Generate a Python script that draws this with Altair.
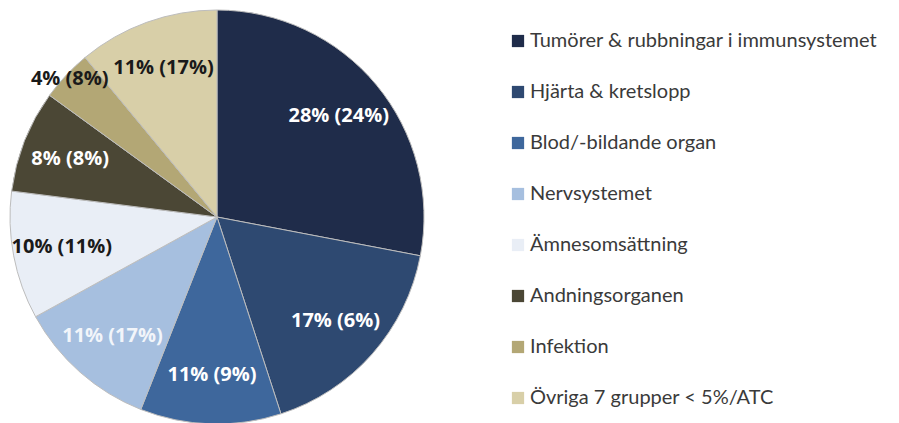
import altair as alt
import pandas as pd

categories = [
    "Tumörer & rubbningar i immunsystemet",
    "Hjärta & kretslopp",
    "Blod/-bildande organ",
    "Nervsystemet",
    "Ämnesomsättning",
    "Andningsorganen",
    "Infektion",
    "Övriga 7 grupper < 5%/ATC",
]
shares = [28, 17, 11, 11, 10, 8, 4, 11]
previous = [24, 6, 9, 17, 11, 8, 8, 17]
colors = ["#1f2c4a", "#2e4971", "#3e679c", "#a6bfdf", "#e9eef6", "#4b4735", "#b3a775", "#d8cfa8"]
label_colors = ["#ffffff", "#ffffff", "#ffffff", "#f2f5fa", "#1a1a1a", "#ffffff", "#1a1a1a", "#1a1a1a"]

df = pd.DataFrame({
    "cat": categories,
    "share": shares,
    "prev": previous,
    "idx": list(range(len(categories))),
    "lc": label_colors,
})

theta_scale = alt.Scale(domain=[0, 100])

pie = alt.Chart(df).mark_arc(radius=207, stroke="#bdbdbd", strokeWidth=1).encode(
    theta=alt.Theta("share:Q", stack=True, scale=theta_scale),
    order=alt.Order("idx:Q", sort="ascending"),
    color=alt.Color(
        "cat:N",
        scale=alt.Scale(domain=categories, range=colors),
        sort=categories,
        legend=alt.Legend(
            title=None,
            orient="none",
            legendX=499,
            legendY=21,
            symbolType="square",
            symbolSize=150,
            symbolStrokeWidth=0,
            labelFont="Lato",
            labelFontSize=20,
            labelColor="#3a3a3a",
            rowPadding=31,
            labelOffset=2,
            labelLimit=500,
        ),
    ),
)

text = alt.Chart(df).transform_window(
    cum="sum(share)", sort=[alt.SortField("idx", order="ascending")], frame=[None, 0]
).transform_calculate(
    mid="datum.cum - datum.share / 2",
    label="datum.share + '% (' + datum.prev + '%)'",
    r="datum.share < 5 ? 202 : 158",
).mark_text(font="Open Sans", fontWeight="bold", fontSize=20).encode(
    theta=alt.Theta("mid:Q", scale=theta_scale),
    radius=alt.Radius("r:Q", scale=None),
    text="label:N",
    color=alt.Color("lc:N", scale=None),
)

chart = alt.layer(pie, text).properties(
    width=416, height=414, padding=0
).configure_view(stroke=None).configure(background="white")

chart.save("out.html", embed_options={"renderer": "svg", "actions": False})
